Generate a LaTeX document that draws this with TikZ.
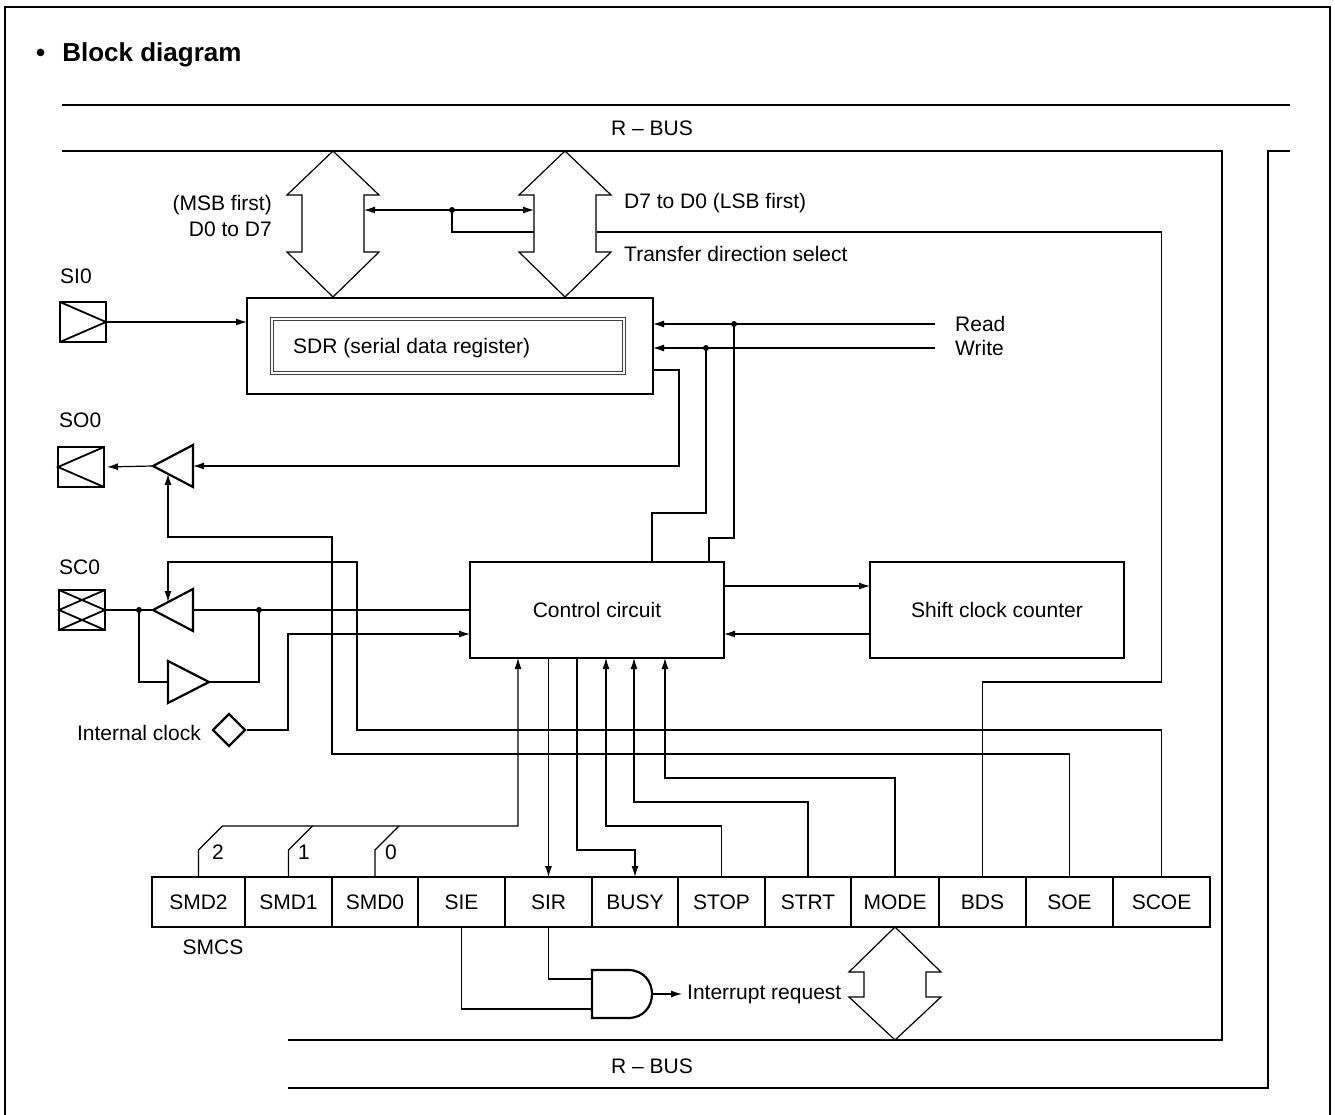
\documentclass[tikz,border=0pt]{standalone}
\usepackage{fontspec}
\setmainfont{Liberation Sans}
\usetikzlibrary{arrows.meta,shapes.geometric}
\tikzset{
  wire/.style={line width=1.2pt},
  bus/.style={line width=2.8pt},
  box/.style={draw, line width=2.8pt, minimum width=254pt, minimum height=96pt, inner sep=0pt, outer sep=0pt},
  cell/.style={draw, line width=2.4pt, minimum height=50pt, inner sep=0pt, outer sep=0pt},
  pin/.style={draw, line width=2.6pt, minimum width=46pt, minimum height=40pt, inner sep=0pt, outer sep=0pt},
  gatel/.style={line width=2.2pt, fill=white},
  dot/.style={circle, fill, inner sep=0pt, minimum size=6pt},
  lbl/.style={inner sep=0pt}
}
\newcommand{\busarrow}[5]{%
  \draw[wire, fill=white] (#1,#2) -- ++(46,#4) -- ++(-15,0) -- (#1+31,#3-#5) -- ++(15,0) -- (#1,#3)
    -- ++(-46,-#5) -- ++(15,0) -- (#1-31,#2+#4) -- ++(-15,0) -- cycle;}

\begin{document}
\begin{tikzpicture}[x=1pt, y=-1pt, >={Latex[length=11pt,width=7pt]},
  every node/.style={font=\fontsize{21}{26}\selectfont}]
  \useasboundingbox (0,0) rectangle (1335,1115);
  \draw[line width=1.2pt] (5,1115) -- (5,7) -- (1330,7) -- (1330,1115);
  \node[lbl, anchor=west, font=\bfseries\fontsize{26}{30}\selectfont] (title) at (36,55) {\textbullet\hspace{17pt}Block diagram};

  \draw[bus] (62,105) -- (1290,105);
  \draw[bus] (62,151) -- (1222,151) -- (1222,1040) -- (288,1040);
  \draw[bus] (1290,151) -- (1268,151) -- (1268,1088) -- (288,1088);
  \node[lbl] (rbusa) at (652,128) {R -- BUS};
  \node[lbl] (rbusb) at (652,1066) {R -- BUS};

  \node[box, minimum width=406pt] (sdr) at (450,346) {};
  \node[draw=black!75, double=white, double distance=1.6pt, line width=0.8pt, minimum width=352pt, minimum height=54pt] (sdrin) at (448,346) {};
  \node[lbl, anchor=west] (sdrtxt) at (293,348) {SDR (serial data register)};
  \node[box] (ctrl) at (597,610) {Control circuit};
  \node[box] (scc) at (997,610) {Shift clock counter};

  \busarrow{333}{151}{297}{44}{45}
  \busarrow{565}{151}{297}{44}{45}
  \node[lbl, anchor=east, align=right] (msbl) at (272,216) {(MSB first)\\D0 to D7};
  \node[lbl, anchor=west] (lsbl) at (624,203) {D7 to D0 (LSB first)};
  \node[lbl, anchor=west] (tdsl) at (624,254) {Transfer direction select};
  \coordinate (msbr) at (364,210);
  \coordinate (lsbw) at (534,210);
  \coordinate (tdin) at (534,232);
  \coordinate (tdl) at (597,232);
  \node[dot] (tdot) at (452,210) {};
  \draw[wire,<->] (msbr) -- (lsbw);
  \draw[wire] (tdot.center) |- (tdin);

  \foreach \nm/\lb/\xl/\xr in {smdii/SMD2/152/245, smdi/SMD1/245/332, smdo/SMD0/332/418,
      sie/SIE/418/505, sir/SIR/505/592, busy/BUSY/592/678, stop/STOP/678/765,
      strt/STRT/765/851, mode/MODE/851/939, bds/BDS/939/1026, soe/SOE/1026/1113, scoe/SCOE/1113/1210}
    \node[cell, minimum width={(\xr-\xl)*1pt}] (\nm) at ({(\xl+\xr)/2},902) {\lb};
  \node[lbl] (smcs) at (213,947) {SMCS};
  \busarrow{895}{927}{1040}{45}{43}

  % pins and buffers
  \node[lbl, anchor=west] (si0l) at (60,276) {SI0};
  \node[lbl, anchor=west] (so0l) at (59,420) {SO0};
  \node[lbl, anchor=west] (sc0l) at (59,567) {SC0};
  \node[pin] (si0) at (83,322) {};
  \node[pin] (so0) at (81,467) {};
  \node[pin] (sc0) at (82,610) {};
  \draw[line width=1.8pt] (si0.north west) -- (si0.east) -- (si0.south west);
  \draw[line width=1.8pt] (so0.north east) -- (so0.west) -- (so0.south east);
  \draw[line width=1.8pt] (sc0.north west) -- (sc0.east) -- (sc0.south west)
    (sc0.north east) -- (sc0.west) -- (sc0.south east);
  \draw[gatel] (193,445) -- (153,466) -- (193,487) -- cycle;
  \draw[gatel] (193,589) -- (153,610) -- (193,631) -- cycle;
  \draw[gatel] (168,661) -- (209,682) -- (168,703) -- cycle;
  \coordinate (obufin) at (193,466);
  \coordinate (obufout) at (153,466);
  \coordinate (oen) at (168,474);
  \coordinate (cbufin) at (193,610);
  \coordinate (cbufout) at (153,610);
  \coordinate (cen) at (168,602);
  \coordinate (ibufin) at (168,682);
  \coordinate (ibufout) at (209,682);
  \node[dot] (cdotl) at (139,610) {};
  \node[dot] (cdotr) at (259,610) {};
  \node[draw, diamond, aspect=1, minimum size=33pt, inner sep=0pt, line width=2.2pt] (clk) at (229,730) {};
  \node[lbl, anchor=east] (clkl) at (201,733) {Internal clock};

  \draw[wire,->] (si0.east) -- (sdr.west |- si0.east);
  \draw[wire,->] ([yshift=-24pt]sdr.east) -- ++(26,0) |- (obufin);
  \draw[wire,->,shorten >=3pt] (obufout) -- (so0.east);
  \draw[wire] (sc0.east) -- (cdotl.center) -- (cbufout);
  \draw[wire] (cbufin) -- (cdotr.center) -- (ctrl.west);
  \draw[wire] (cdotl.center) |- (ibufin);
  \draw[wire] (ibufout) -| (cdotr.center);
  \draw[wire,->] (clk.east) -| (288,634) -- ([yshift=-24pt]ctrl.west);

  \path[wire,->]
    ([yshift=24pt]ctrl.east) edge ([yshift=24pt]scc.west)
    ([yshift=-24pt]scc.west) edge ([yshift=-24pt]ctrl.east);

  % read / write
  \node[lbl, anchor=west] (rdl) at (955,324) {Read};
  \node[lbl, anchor=west] (wrl) at (955,348) {Write};
  \node[dot] (rdot) at (734,324) {};
  \node[dot] (wdot) at (706,348) {};
  \draw[wire,->] ([xshift=-20pt]rdl.west) -- (sdr.east |- rdl.west);
  \draw[wire,->] ([xshift=-20pt]wrl.west) -- (sdr.east |- wrl.west);
  \draw[wire] (rdot.center) -- ++(0,214) -| ([xshift=112pt]ctrl.north);
  \draw[wire] (wdot.center) -- ++(0,165) -| ([xshift=55pt]ctrl.north);

  % SMCS lines
  \draw[wire] (smdi.north) -- ++(0,-27) -- ++(24,-24);
  \draw[wire] (smdo.north) -- ++(0,-27) -- ++(24,-24);
  \draw[wire,->] (smdii.north) -- ++(0,-27) -- ++(24,-24) -| ([xshift=-79pt]ctrl.south);
  \node[lbl, anchor=west] (nii) at (212,852) {2};
  \node[lbl, anchor=west] (ni) at (298,852) {1};
  \node[lbl, anchor=west] (no) at (385,852) {0};
  \draw[wire,->] (sir.north |- ctrl.south) -- (sir.north);
  \draw[wire,->] ([xshift=-20pt]ctrl.south) |- ([yshift=27pt]busy.north) -- (busy.north);
  \draw[wire,->] (stop.north) -- ++(0,-51) -| ([xshift=9pt]ctrl.south);
  \draw[wire,->] (strt.north) -- ++(0,-75) -| ([xshift=37pt]ctrl.south);
  \draw[wire,->] (mode.north) -- ++(0,-99) -| ([xshift=68pt]ctrl.south);
  \draw[wire] (bds.north) -- ++(0,-195) -| (scoe.north |- tdl) -- (tdl);
  \draw[wire,->] (soe.north) -- ++(0,-123) -| (332,537) -| (oen);
  \draw[wire,->] (scoe.north) -- ++(0,-147) -| (357,562) -| (cen);

  % interrupt
  \coordinate (andina) at (592,979);
  \coordinate (andinb) at (592,1009);
  \coordinate (andout) at (652,994);
  \draw[gatel] (592,970) -- (628,970) .. controls (660,970) and (660,1018) .. (628,1018) -- (592,1018) -- cycle;
  \draw[wire] (sir.south) |- (andina);
  \draw[wire] (sie.south) |- (andinb);
  \node[lbl, anchor=west] (irq) at (687,994) {Interrupt request};
  \draw[wire,->] (andout) -- ([xshift=-5pt]irq.west);
\end{tikzpicture}
\end{document}
